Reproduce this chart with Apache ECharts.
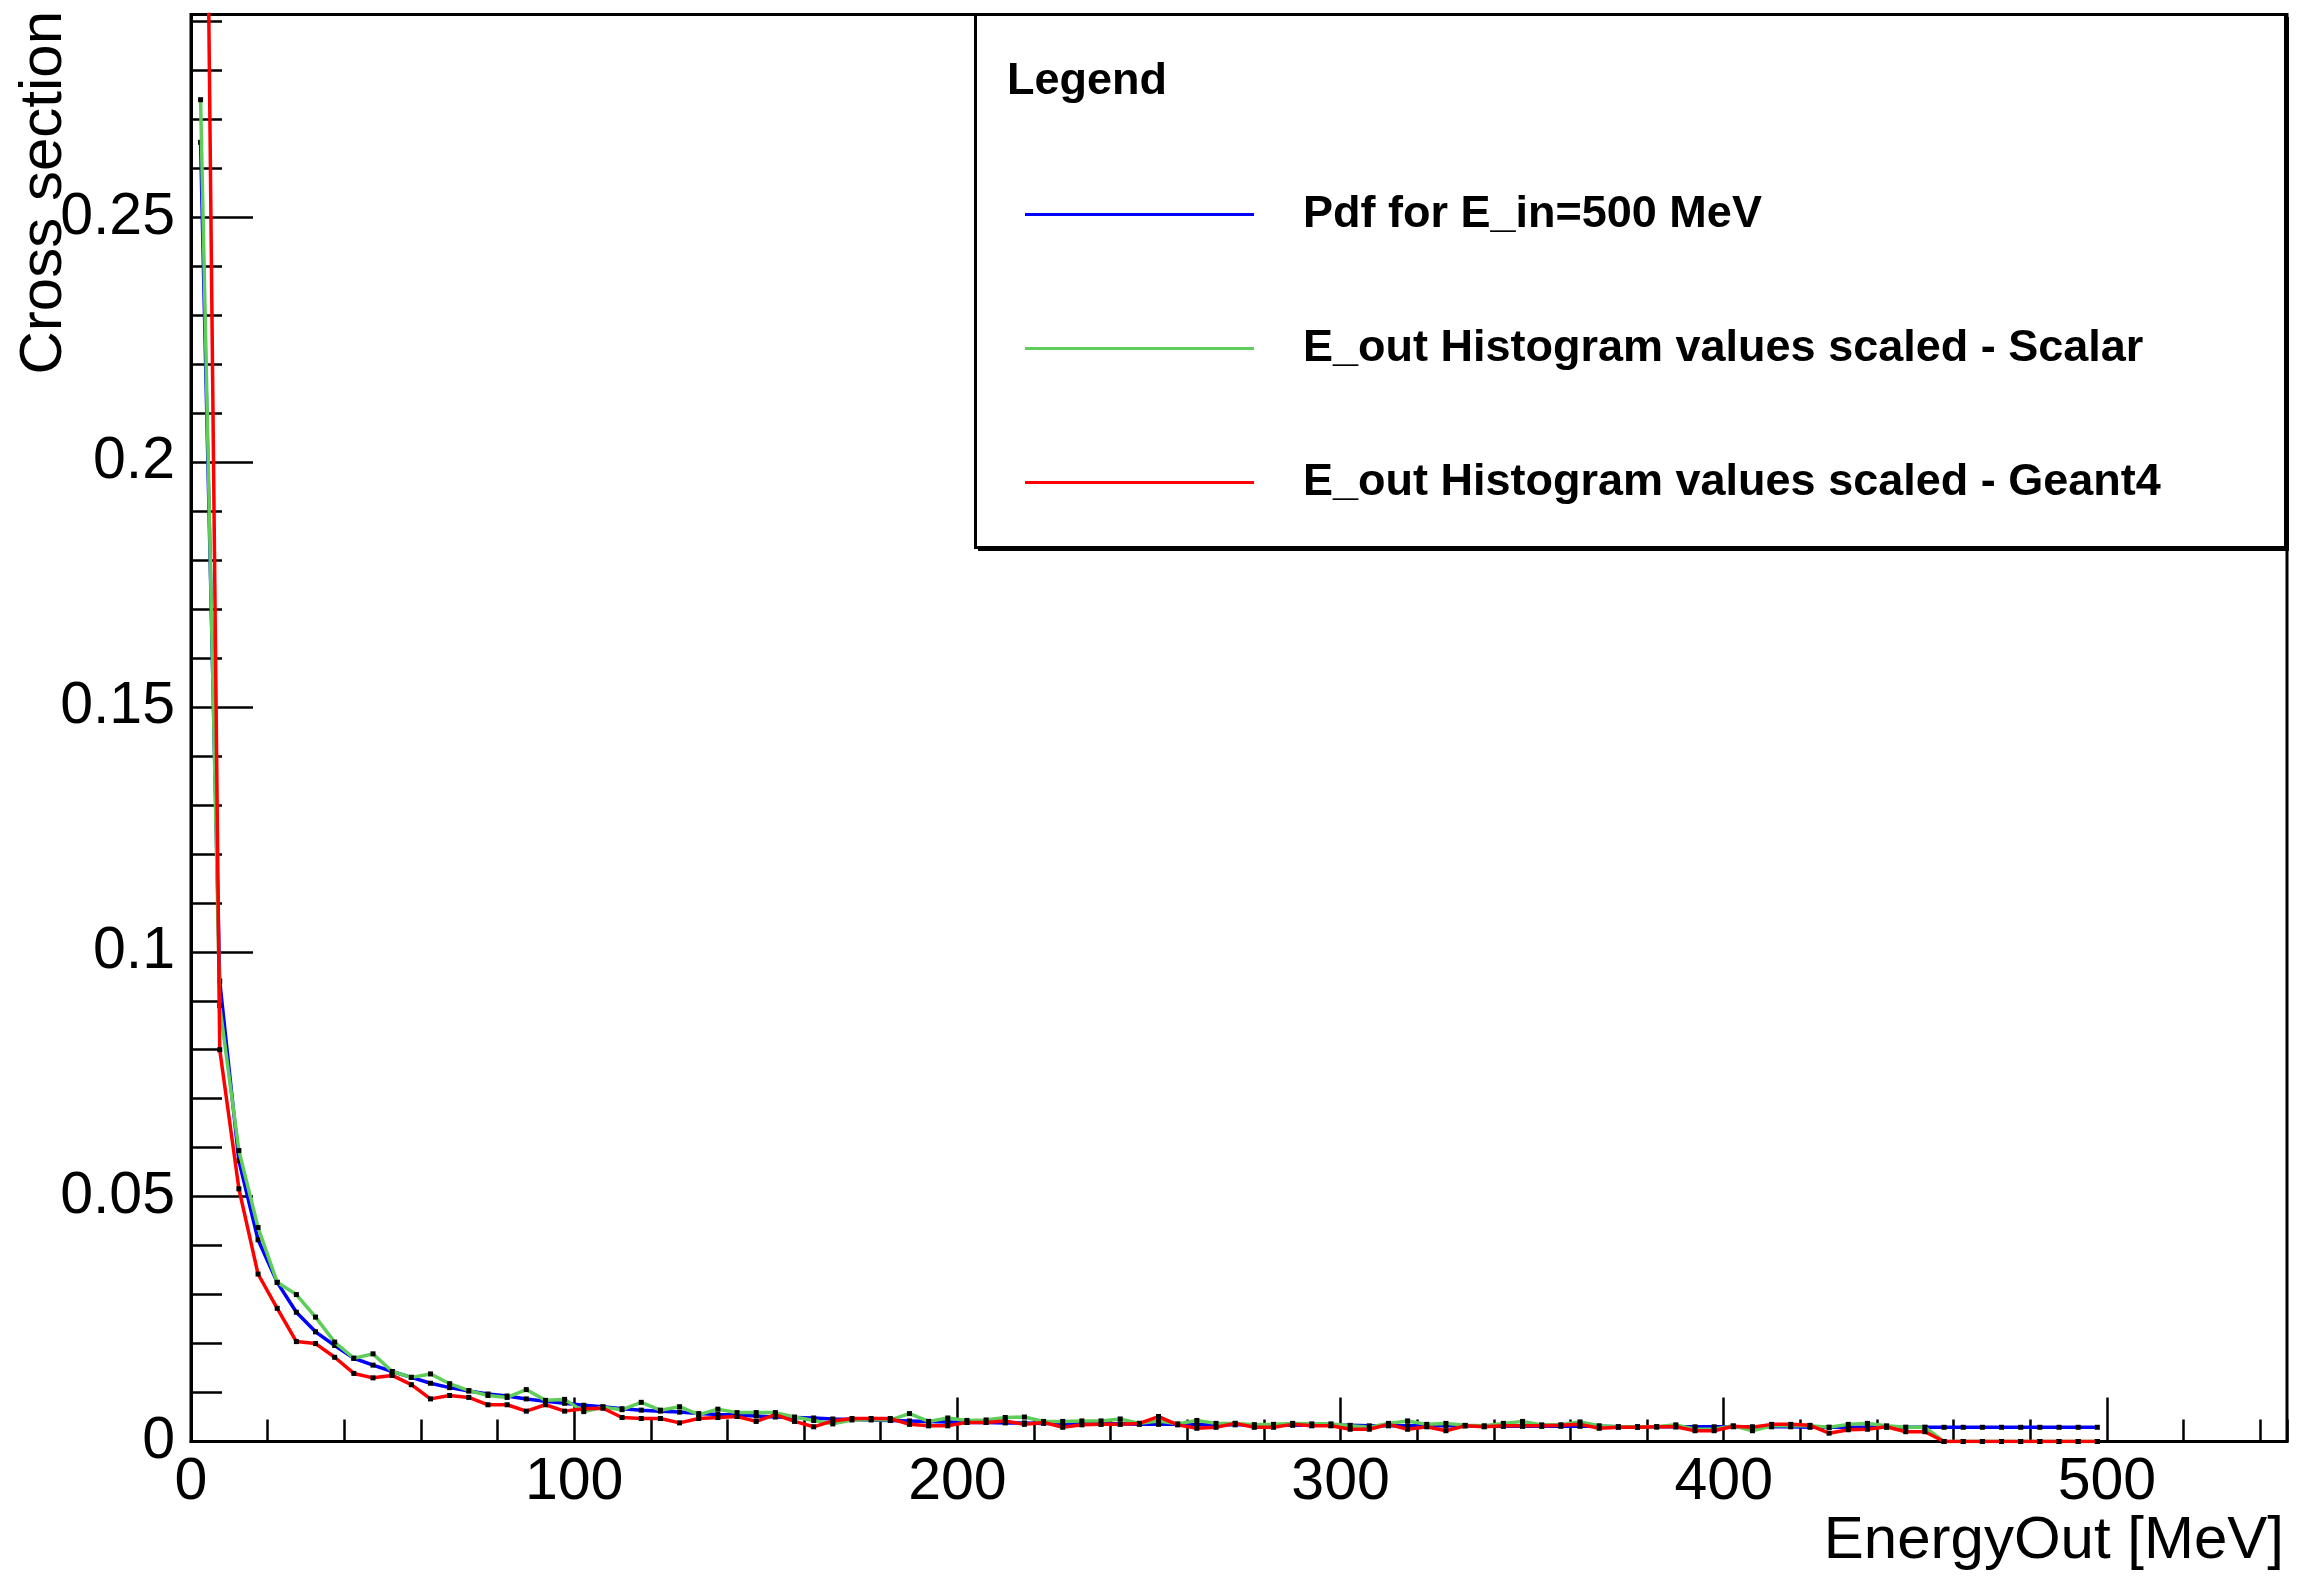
<!DOCTYPE html>
<html>
<head>
<meta charset="utf-8">
<title>Cross section vs EnergyOut</title>
<script src="https://cdn.jsdelivr.net/npm/echarts@6/dist/echarts.min.js"></script>
<style>
  html, body { margin: 0; padding: 0; background: #fff; }
  #chart { width: 2302px; height: 1576px; }
</style>
</head>
<body>
<div id="chart"></div>
<script>
// bin centres, MeV
var energyOut = [
  2.5, 7.5, 12.5, 17.5, 22.5, 27.5, 32.5, 37.5, 42.5, 47.5,
  52.5, 57.5, 62.5, 67.5, 72.5, 77.5, 82.5, 87.5, 92.5, 97.5,
  102.5, 107.5, 112.5, 117.5, 122.5, 127.5, 132.5, 137.5, 142.5, 147.5,
  152.5, 157.5, 162.5, 167.5, 172.5, 177.5, 182.5, 187.5, 192.5, 197.5,
  202.5, 207.5, 212.5, 217.5, 222.5, 227.5, 232.5, 237.5, 242.5, 247.5,
  252.5, 257.5, 262.5, 267.5, 272.5, 277.5, 282.5, 287.5, 292.5, 297.5,
  302.5, 307.5, 312.5, 317.5, 322.5, 327.5, 332.5, 337.5, 342.5, 347.5,
  352.5, 357.5, 362.5, 367.5, 372.5, 377.5, 382.5, 387.5, 392.5, 397.5,
  402.5, 407.5, 412.5, 417.5, 422.5, 427.5, 432.5, 437.5, 442.5, 447.5,
  452.5, 457.5, 462.5, 467.5, 472.5, 477.5, 482.5, 487.5, 492.5, 497.5
];

// Pdf for E_in=500 MeV
var pdfValues = [
  0.2653, 0.094, 0.0573, 0.0412, 0.0325, 0.0264, 0.0224, 0.0196, 0.0170, 0.0156,
  0.0143, 0.0131, 0.0119, 0.0110, 0.0103, 0.0097, 0.0093, 0.0087, 0.0082, 0.0078,
  0.0074, 0.0071, 0.0067, 0.0064, 0.0062, 0.0060, 0.0057, 0.0055, 0.0054, 0.0052,
  0.0050, 0.0049, 0.0048, 0.0046, 0.0045, 0.0044, 0.0043, 0.0042, 0.0041, 0.0040,
  0.0039, 0.0039, 0.0038, 0.0038, 0.0037, 0.0037, 0.0036, 0.0036, 0.0036, 0.0035,
  0.0035, 0.0035, 0.0034, 0.0034, 0.0034, 0.0034, 0.0033, 0.0033, 0.0033, 0.0033,
  0.0033, 0.0032, 0.0032, 0.0032, 0.0032, 0.0032, 0.0032, 0.0031, 0.0031, 0.0031,
  0.0031, 0.0031, 0.0031, 0.0031, 0.0030, 0.0030, 0.0030, 0.0030, 0.0030, 0.0030,
  0.0030, 0.0030, 0.0030, 0.0030, 0.0029, 0.0029, 0.0029, 0.0029, 0.0029, 0.0029,
  0.0029, 0.0029, 0.0029, 0.0029, 0.0029, 0.0029, 0.0029, 0.0029, 0.0029, 0.0029
];

// E_out histogram, scalar
var scalarValues = [
  0.274, 0.089, 0.0594, 0.0437, 0.0325, 0.0300, 0.0254, 0.0203, 0.0170, 0.0179,
  0.0143, 0.0131, 0.0138, 0.0118, 0.0104, 0.0094, 0.0090, 0.0106, 0.0084, 0.0086,
  0.0061, 0.0070, 0.0065, 0.0080, 0.0064, 0.0071, 0.0055, 0.0066, 0.0059, 0.0059,
  0.0059, 0.0050, 0.0043, 0.0036, 0.0044, 0.0045, 0.0044, 0.0057, 0.0041, 0.0048,
  0.0043, 0.0044, 0.0049, 0.0050, 0.0041, 0.0041, 0.0042, 0.0042, 0.0046, 0.0037,
  0.0042, 0.0036, 0.0043, 0.0037, 0.0037, 0.0034, 0.0035, 0.0037, 0.0036, 0.0036,
  0.0032, 0.0029, 0.0037, 0.0042, 0.0035, 0.0037, 0.0033, 0.0032, 0.0037, 0.0041,
  0.0034, 0.0034, 0.0040, 0.0032, 0.0030, 0.0030, 0.0030, 0.0034, 0.0025, 0.0025,
  0.0032, 0.0022, 0.0032, 0.0032, 0.0032, 0.0029, 0.0035, 0.0037, 0.0032, 0.0029,
  0.0029, 0, 0, 0, 0, 0, 0, 0, 0, 0
];

// E_out histogram, Geant4
var geant4Values = [
  0.45, 0.080, 0.0516, 0.0342, 0.0272, 0.0204, 0.0200, 0.0172, 0.0139, 0.0130,
  0.0135, 0.0116, 0.0087, 0.0094, 0.0090, 0.0075, 0.0075, 0.0062, 0.0075, 0.0062,
  0.0067, 0.0068, 0.0049, 0.0047, 0.0047, 0.0038, 0.0047, 0.0049, 0.0051, 0.0041,
  0.0055, 0.0041, 0.0030, 0.0042, 0.0047, 0.0047, 0.0047, 0.0035, 0.0032, 0.0032,
  0.0039, 0.0039, 0.0042, 0.0035, 0.0039, 0.0029, 0.0034, 0.0035, 0.0035, 0.0037,
  0.0051, 0.0034, 0.0027, 0.0029, 0.0037, 0.0029, 0.0029, 0.0035, 0.0032, 0.0032,
  0.0025, 0.0025, 0.0035, 0.0025, 0.0030, 0.0022, 0.0032, 0.0030, 0.0032, 0.0032,
  0.0032, 0.0033, 0.0035, 0.0027, 0.0029, 0.0029, 0.0030, 0.0030, 0.0022, 0.0022,
  0.0031, 0.0029, 0.0035, 0.0035, 0.0033, 0.0017, 0.0024, 0.0025, 0.0030, 0.0020,
  0.0020, 0, 0, 0, 0, 0, 0, 0, 0, 0
];

var seriesNames = [
  'Pdf for E_in=500 MeV',
  'E_out Histogram values scaled - Scalar',
  'E_out Histogram values scaled - Geant4'
];
var seriesColors = ['#0000ff', '#5fcd5a', '#ff0000'];
var seriesValues = [pdfValues, scalarValues, geant4Values];

var FONT = '"Liberation Sans", Arial, Helvetica, sans-serif';

var chart = echarts.init(document.getElementById('chart'));

function pairs(values) {
  return energyOut.map(function (x, i) { return [x, values[i]]; });
}

var series = seriesNames.map(function (name, k) {
  return {
    name: name,
    type: 'line',
    data: pairs(seriesValues[k]),
    symbol: 'rect',
    symbolSize: 5,
    showAllSymbol: true,
    clip: true,
    itemStyle: { color: '#000' },
    lineStyle: { color: seriesColors[k], width: 3.5 },
    z: 2 + k
  };
});

function majorAxis(extra) {
  return Object.assign({
    type: 'value',
    axisLine: { show: true, lineStyle: { color: '#000', width: 3 } },
    splitLine: { show: false }
  }, extra);
}

function minorAxis(extra) {
  return Object.assign({
    type: 'value',
    axisLine: { show: false },
    axisLabel: { show: false },
    splitLine: { show: false }
  }, extra);
}

var option = {
  animation: false,
  backgroundColor: '#fff',
  grid: {
    left: 191, right: 15, top: 14.5, bottom: 134.5,
    show: true, borderColor: '#000', borderWidth: 3, backgroundColor: 'transparent'
  },
  xAxis: [
    majorAxis({ min: 0, max: 547, interval: 100, position: 'bottom',
      axisTick: { show: true, inside: true, length: 44, lineStyle: { color: '#000', width: 2.5 } },
      axisLabel: { color: '#000', fontSize: 59, fontFamily: FONT, showMaxLabel: false, margin: 12 } }),
    minorAxis({ min: 0, max: 547, interval: 20, position: 'bottom',
      axisTick: { show: true, inside: true, length: 22, lineStyle: { color: '#000', width: 2.5 } } })
  ],
  yAxis: [
    majorAxis({ min: 0, max: 0.2914, interval: 0.05, position: 'left',
      axisTick: { show: true, inside: true, length: 62, lineStyle: { color: '#000', width: 2.5 } },
      axisLabel: { color: '#000', fontSize: 59, fontFamily: FONT, showMaxLabel: false, margin: 16 } }),
    minorAxis({ min: 0, max: 0.2914, interval: 0.01, position: 'left',
      axisTick: { show: true, inside: true, length: 31, lineStyle: { color: '#000', width: 2.5 } } })
  ],
  legend: {
    orient: 'vertical',
    left: 1020,
    top: 187,
    itemWidth: 229,
    itemHeight: 3,
    itemGap: 89,
    icon: 'rect',
    selectedMode: false,
    z: 20,
    data: seriesNames.map(function (name, k) {
      return { name: name, itemStyle: { color: seriesColors[k] } };
    }),
    textStyle: {
      color: '#000', fontSize: 45, fontWeight: 'bold', fontFamily: FONT,
      padding: [0, 0, 0, 44]
    }
  },
  graphic: [
    {
      type: 'rect',
      shape: { x: 975.5, y: 14.5, width: 1310, height: 533 },
      style: { fill: '#fff', stroke: '#000', lineWidth: 3 },
      z: 6, silent: true
    },
    {
      type: 'polyline',
      shape: { points: [[978, 550], [2288, 550], [2288, 17]] },
      style: { fill: null, stroke: '#000', lineWidth: 2 },
      z: 6, silent: true
    },
    {
      type: 'text',
      x: 1007, y: 82,
      style: { text: 'Legend', fill: '#000', font: 'bold 45px ' + FONT, textAlign: 'left', textVerticalAlign: 'middle' },
      z: 21, silent: true
    },
    {
      type: 'text',
      x: 2284, y: 1541,
      style: { text: 'EnergyOut [MeV]', fill: '#000', font: '60px ' + FONT, textAlign: 'right', textVerticalAlign: 'middle' },
      silent: true
    },
    {
      type: 'text',
      x: 44, y: 11,
      rotation: Math.PI / 2,
      style: { text: 'Cross section', fill: '#000', font: '60px ' + FONT, textAlign: 'right', textVerticalAlign: 'middle' },
      silent: true
    }
  ],
  series: series
};

chart.setOption(option);
</script>
</body>
</html>
